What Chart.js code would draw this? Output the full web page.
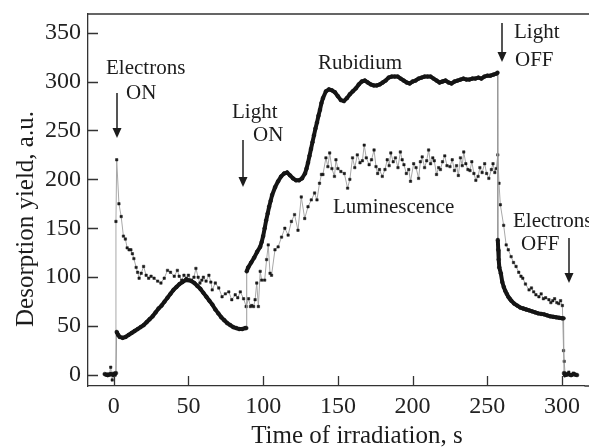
<!DOCTYPE html>
<html>
<head>
<meta charset="utf-8">
<script src="https://cdn.jsdelivr.net/npm/chart.js@4.4.0/dist/chart.umd.min.js"></script>
<style>html,body{margin:0;padding:0;background:#fff}</style>
</head>
<body>
<canvas id="myChart" width="589" height="448"></canvas>
<script>
var xTicks = [0, 50, 100, 150, 200, 250, 300];
var yTicks = [0, 50, 100, 150, 200, 250, 300, 350];

// Rubidium (dense black dots)
var rbT = [-6, -4, -2, 0, 1.5, 2, 3, 4, 6, 8, 10, 12, 14, 16, 18, 20, 22, 24, 26, 28, 30, 32, 34, 36, 38, 40, 42, 44, 46, 48, 50,
  52, 54, 56, 58, 60, 62, 64, 66, 68, 70, 72, 74, 76, 78, 80, 82, 84, 86, 88, 88.7,
  89, 90, 92, 94, 96, 98, 99, 100, 101, 102, 103, 104, 105, 106, 108, 110, 112, 114, 116, 118, 120, 122, 124, 126, 128,
  129, 130, 131, 132, 133, 134, 135, 136, 137, 138, 139, 140, 142, 144, 146, 148, 150, 152, 154, 156, 158, 160, 162, 164,
  166, 168, 170, 172, 174, 176, 178, 180, 182, 184, 186, 188, 190, 192, 194, 196, 198, 200, 202, 204, 206, 208, 210, 212,
  214, 216, 218, 220, 222, 224, 226, 228, 230, 232, 234, 236, 238, 240, 242, 244, 246, 248, 250, 252, 254, 256, 256.8,
  257, 257.3, 257.6, 258, 259, 260, 261, 262, 263, 264, 265, 266, 268, 270, 272, 274, 276, 278, 280, 282, 284, 286, 288,
  290, 292, 294, 296, 298, 300, 301, 301.3, 302, 304, 306, 308, 310];
var rbV = [1, 0, 1, 0, 2, 44, 41, 39, 38, 39, 41, 43, 45, 47, 49, 51, 54, 57, 60, 64, 68, 71, 75, 79, 83, 87, 90, 93, 95, 97, 97,
  96, 94, 91, 88, 84, 80, 76, 72, 67, 63, 59, 56, 53, 51, 49, 48, 47, 47, 48, 48,
  106, 110, 115, 120, 126, 131, 136, 142, 150, 158, 165, 172, 178, 184, 192, 198, 203, 206, 207, 204, 201, 199, 199, 201, 206,
  211, 217, 224, 231, 238, 245, 252, 258, 265, 271, 278, 283, 290, 292, 291, 289, 285, 281, 280, 283, 287, 290, 293, 297,
  300, 301, 299, 297, 296, 296, 297, 299, 301, 304, 305, 305, 305, 303, 301, 299, 298, 300, 301, 303, 304, 305, 305, 305,
  303, 301, 299, 300, 301, 299, 298, 300, 301, 302, 303, 302, 302, 303, 303, 304, 303, 305, 306, 306, 307, 308, 309,
  138, 128, 118, 110, 104, 95, 90, 86, 83, 80, 78, 76, 73, 71, 69, 68, 67, 66, 65, 64, 63, 62.5, 62,
  61, 60, 59.5, 59, 58.5, 58, 58, 2, 0, 1, 0, 1, 0];

// Luminescence (gray line, small square markers)
var lumT = [-5, -4, -3, -2, -1, 0, 1, 1.5, 2, 3.5, 5, 6.5, 7.8, 9, 10.3, 11.5, 12.5, 13.5, 15, 16, 17, 18.4, 20, 21.7, 23.4,
  25, 27, 29.4, 31.6, 33.8, 36, 38, 40.5, 42.6, 43.8, 45.5, 47, 48.6, 50, 51.8, 53.7, 55, 56.5, 57.7, 59, 60, 61.8, 63.7,
  65, 65.9, 68, 70.3, 72.5, 74.7, 77, 79, 81.3, 83, 84.7, 86.9, 88.6, 90.2, 91.5, 92.4, 93.6, 94.6, 95.7, 96.8, 98, 99,
  101, 102.3, 103.4, 104.6, 105.6, 107.9, 110, 112.3, 114.5, 116.7, 118.9, 121, 123.3, 125.5, 127.8, 130, 132.2, 134.4,
  136, 137.7, 139, 140, 142, 143.3, 144.5, 146, 147.7, 148.7, 150, 152, 154.3, 156.5, 158, 159.8, 161.3, 163, 164.8, 166.4,
  167.6, 169, 170.9, 172.5, 174.2, 175.5, 176.6, 177.8, 179.7, 181.5, 183, 184.3, 185.4, 187, 188.5, 190.2, 191.8, 193,
  194.2, 195.8, 197.4, 198.6, 200.7, 202.3, 204, 205.2, 206.4, 208, 209.4, 210.7, 212, 213.5, 214.5, 216, 217.4, 218.6,
  220, 221.5, 223, 225, 226.5, 228, 229.4, 230.6, 232, 233.2, 234.2, 235.6, 237, 238.4, 239.6, 241, 242.3, 243.8, 245,
  246.5, 248.2, 249.5, 251, 252.7, 253.8, 255, 256, 257, 257.8, 258.7, 260.9, 262.6, 264, 265.9, 267.5, 269.2, 271, 272.5,
  273.7, 275.5, 277.9, 279.5, 281, 282.5, 284.5, 286, 287.5, 289, 291.2, 292.5, 293.8, 295, 296.5, 297.8, 299, 300.2,
  301, 301.4, 302, 303, 304.5, 306, 307.5, 309];
var lumV = [0, 1, 0, 8, -5, 2, 0, 157, 220, 175, 162, 142, 139, 130, 128, 128, 124, 119, 110, 105, 99, 104, 111, 102, 99,
  101, 99, 96, 94, 99, 107, 105, 101, 107, 101, 97, 102, 99, 102, 97, 100, 109, 100, 94, 97, 100, 96, 102,
  95, 87, 94, 89, 80, 83, 85, 77, 82, 79, 85, 78, 70, 78, 70, 71, 70, 77, 94, 70, 106, 97,
  97, 118, 133, 104, 102, 128, 131, 141, 150, 143, 157, 164, 148, 182, 160, 172, 179, 186,
  179, 196, 205, 205, 222, 213, 227, 211, 203, 220, 211, 208, 206, 191, 200, 222, 212, 225, 217, 219,
  235, 222, 215, 220, 230, 213, 206, 210, 203, 210, 220, 214, 227, 218, 222, 212, 228, 220,
  215, 206, 210, 198, 216, 212, 201, 218, 223, 212, 219, 230, 216, 222, 219, 205, 212, 210,
  218, 224, 214, 213, 220, 209, 214, 204, 222, 214, 228, 216, 210, 209, 218, 206, 199, 203, 212,
  207, 216, 206, 201, 210, 216, 207, 211, 225, 196, 174, 153, 133, 128, 121, 115, 111, 105, 101,
  99, 93, 87, 89, 85, 82, 80, 83, 78, 79, 77, 74, 76, 78, 74, 73, 76, 71,
  25, 14, 2, 0, 3, 0, 2, 0];

function pts(t, v) {
  return t.map(function (x, i) { return {x: x, y: v[i]}; });
}

// a jump (switch on/off) is drawn as a thin grey line, the rest thick
function isJump(s) {
  return s.p1.parsed.x - s.p0.parsed.x < 1 && Math.abs(s.p1.parsed.y - s.p0.parsed.y) > 20;
}

var serif = '"Liberation Serif", "Times New Roman", serif';
var ink = '#1c1c1c';

// text notes: [text, left x, baseline y]
var notes = [
  ['Electrons', 106, 74], ['ON', 126, 99],
  ['Light', 232, 118], ['ON', 253, 141],
  ['Rubidium', 318, 69],
  ['Light', 514, 38], ['OFF', 515, 66],
  ['Luminescence', 333, 213],
  ['Electrons', 513, 227], ['OFF', 521, 250]
];
// arrows: [x, top y, tip y]
var arrows = [[117, 93, 138], [243, 140, 187], [502, 23, 62], [569, 238, 283]];

var decor = {
  id: 'decor',
  afterDraw: function (chart) {
    var c = chart.ctx, a = chart.chartArea;
    var xs = chart.scales.x, ys = chart.scales.y;
    c.save();
    c.strokeStyle = '#333';
    c.lineWidth = 1.3;
    c.beginPath();
    c.moveTo(a.left, a.top); c.lineTo(chart.width, a.top);
    c.moveTo(a.right, a.bottom); c.lineTo(chart.width, a.bottom);
    xTicks.forEach(function (v) {
      var px = Math.round(xs.getPixelForValue(v)) + 0.5;
      c.moveTo(px, a.bottom); c.lineTo(px, a.bottom - 10);
    });
    yTicks.forEach(function (v) {
      var py = Math.round(ys.getPixelForValue(v)) + 0.5;
      c.moveTo(a.left, py); c.lineTo(a.left + 10, py);
    });
    c.stroke();

    c.fillStyle = ink;
    c.font = '21px ' + serif;
    c.textAlign = 'left';
    c.textBaseline = 'alphabetic';
    notes.forEach(function (n) { c.fillText(n[0], n[1], n[2]); });

    c.strokeStyle = ink;
    c.lineWidth = 1.5;
    arrows.forEach(function (r) {
      c.beginPath();
      c.moveTo(r[0], r[1]); c.lineTo(r[0], r[2] - 8);
      c.stroke();
      c.beginPath();
      c.moveTo(r[0] - 4.5, r[2] - 10); c.lineTo(r[0] + 4.5, r[2] - 10); c.lineTo(r[0], r[2]);
      c.closePath();
      c.fill();
    });

    c.font = '25px ' + serif;
    c.textAlign = 'center';
    c.fillText('Time of irradiation, s', 357, 443);
    c.translate(33, 219);
    c.rotate(-Math.PI / 2);
    c.fillText('Desorption yield, a.u.', 0, 0);
    c.restore();
  }
};

var ctx = document.getElementById('myChart').getContext('2d');
var myChart = new Chart(ctx, {
  type: 'scatter',
  data: {
    datasets: [{
      label: 'Rubidium',
      data: pts(rbT, rbV),
      showLine: true,
      borderColor: '#151515',
      borderWidth: 4,
      segment: {
        borderColor: function (s) { return isJump(s) ? '#9a9a9a' : undefined; },
        borderWidth: function (s) { return isJump(s) ? 1 : undefined; }
      },
      pointRadius: 1.9,
      pointBackgroundColor: '#151515',
      pointBorderColor: '#151515',
      pointBorderWidth: 0.5
    }, {
      label: 'Luminescence',
      data: pts(lumT, lumV),
      showLine: true,
      borderColor: '#a8a8a8',
      borderWidth: 1,
      pointStyle: 'rect',
      pointRadius: 1.7,
      pointBackgroundColor: '#1a1a1a',
      pointBorderColor: '#1a1a1a',
      pointBorderWidth: 0.5
    }]
  },
  options: {
    responsive: false,
    animation: false,
    layout: {padding: {top: 14, left: 0, right: 0, bottom: 0}},
    plugins: {legend: {display: false}, tooltip: {enabled: false}},
    scales: {
      x: {
        type: 'linear',
        min: -17.2,
        max: 315,
        afterFit: function (s) { s.height = 62; s.paddingLeft = 0; s.paddingRight = 0; },
        afterBuildTicks: function (s) { s.ticks = xTicks.map(function (v) { return {value: v}; }); },
        grid: {display: false, drawTicks: false},
        border: {display: true, color: '#333', width: 1.3},
        ticks: {autoSkip: false, maxRotation: 0, padding: 6, color: '#222', font: {family: serif, size: 24}}
      },
      y: {
        min: -11.2,
        max: 369,
        afterFit: function (s) { s.width = 88; s.paddingTop = 0; s.paddingBottom = 0; },
        afterBuildTicks: function (s) { s.ticks = yTicks.map(function (v) { return {value: v}; }); },
        grid: {display: false, drawTicks: false},
        border: {display: true, color: '#333', width: 1.3},
        ticks: {padding: 7, color: '#222', font: {family: serif, size: 24}}
      }
    }
  },
  plugins: [decor]
});
</script>
</body>
</html>
